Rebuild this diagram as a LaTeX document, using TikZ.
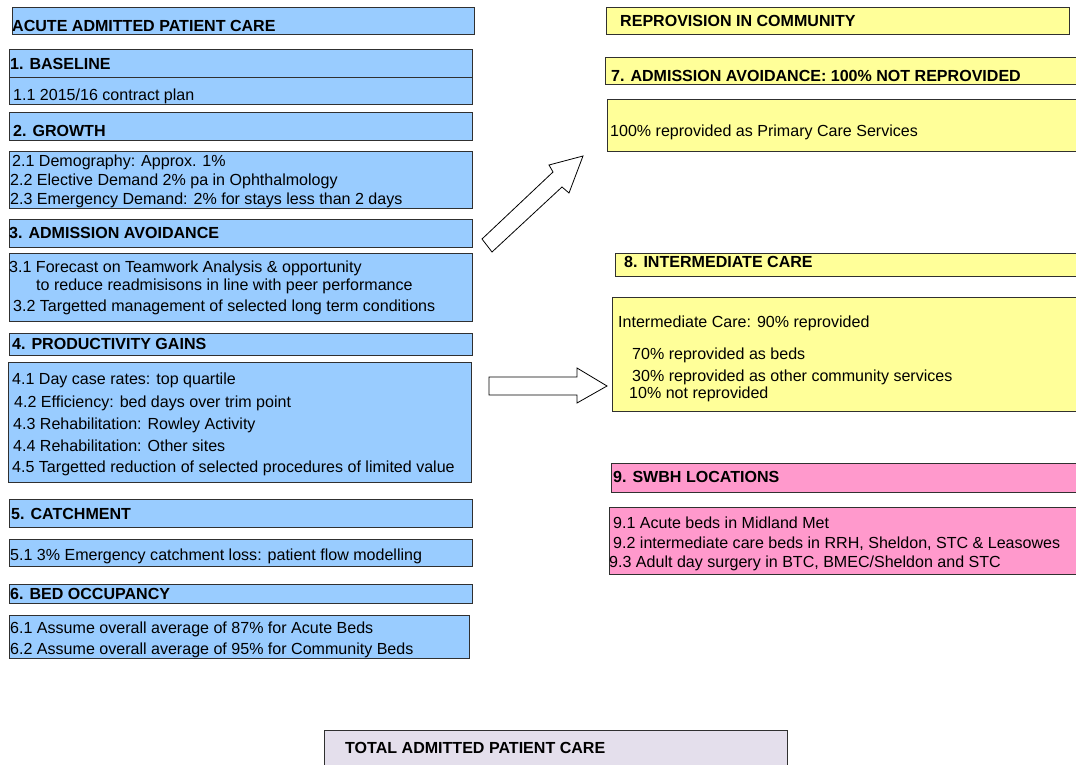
\documentclass[tikz,border=0pt]{standalone}
\usepackage{fontspec}
\setmainfont{Liberation Sans}
\definecolor{cblue}{HTML}{99CCFF}
\definecolor{cyellow}{HTML}{FFFF99}
\definecolor{cpink}{HTML}{FF99CC}
\definecolor{clav}{HTML}{E4DFEC}
\definecolor{cedge}{HTML}{303030}
\begin{document}
\begin{tikzpicture}[x=1pt,y=-1pt,
  panel/.style={draw=cedge,line width=1pt,fill=#1},
  hd/.style={anchor=base west,inner sep=0pt,font=\fontsize{16.05}{18}\selectfont\bfseries},
  tx/.style={anchor=base west,inner sep=0pt,font=\fontsize{16.05}{18}\selectfont},
  blockarrow/.style={draw=black,line width=0.8pt,fill=white,line join=miter}]
\useasboundingbox (0,0) rectangle (1076,765);
\fill[white] (0,0) rectangle (1076,765);

% ---- left column: acute admitted patient care ----
\draw[panel=cblue] (12,8) rectangle (474,35);
\node[hd] (acute) at (12,32) {ACUTE ADMITTED PATIENT CARE};

\draw[panel=cblue] (9,50) rectangle (472,78);
\node[hd] (h1) at (10,70) {1. BASELINE};
\draw[panel=cblue] (9,78) rectangle (472,105);
\node[tx] (t11) at (13,101) {1.1 2015/16 contract plan};

\draw[panel=cblue] (9,113) rectangle (472,141);
\node[hd] (h2) at (13,136) {2. GROWTH};
\draw[panel=cblue] (9,152) rectangle (472,208);
\node[tx] (t21) at (12,167) {2.1 Demography: Approx. 1\%};
\node[tx] (t22) at (10,185) {2.2 Elective Demand 2\% pa in Ophthalmology};
\node[tx] (t23) at (10,204) {2.3 Emergency Demand: 2\% for stays less than 2 days};

\draw[panel=cblue] (9,219) rectangle (472,247);
\node[hd] (h3) at (9,238) {3. ADMISSION AVOIDANCE};
\draw[panel=cblue] (9,253) rectangle (472,321);
\node[tx] (t31) at (9,272) {3.1 Forecast on Teamwork Analysis \& opportunity};
\node[tx] (t31b) at (36,290) {to reduce readmisisons in line with peer performance};
\node[tx] (t32) at (13,311) {3.2 Targetted management of selected long term conditions};

\draw[panel=cblue] (9,333) rectangle (472,355);
\node[hd] (h4) at (12,349) {4. PRODUCTIVITY GAINS};
\draw[panel=cblue] (8,362) rectangle (471,482);
\node[tx] (t41) at (12,384) {4.1 Day case rates: top quartile};
\node[tx] (t42) at (14,407) {4.2 Efficiency: bed days over trim point};
\node[tx] (t43) at (13,429) {4.3 Rehabilitation: Rowley Activity};
\node[tx] (t44) at (13,451) {4.4 Rehabilitation: Other sites};
\node[tx] (t45) at (12,472) {4.5 Targetted reduction of selected procedures of limited value};

\draw[panel=cblue] (9,499) rectangle (472,527);
\node[hd] (h5) at (11,519) {5. CATCHMENT};
\draw[panel=cblue] (9,539) rectangle (472,566);
\node[tx] (t51) at (10,560) {5.1 3\% Emergency catchment loss: patient flow modelling};

\draw[panel=cblue] (9,584) rectangle (472,603);
\node[hd] (h6) at (10,599) {6. BED OCCUPANCY};
\draw[panel=cblue] (9,615) rectangle (469,658);
\node[tx] (t61) at (10,633) {6.1 Assume overall average of 87\% for Acute Beds};
\node[tx] (t62) at (10,654) {6.2 Assume overall average of 95\% for Community Beds};

% ---- right column: reprovision in community ----
\draw[panel=cyellow] (606,8) rectangle (1069,35);
\node[hd] (reprov) at (620,27) {REPROVISION IN COMMUNITY};

\draw[panel=cyellow] (605,58) rectangle (1090,85);
\node[hd] (h7) at (611,82) {7. ADMISSION AVOIDANCE: 100\% NOT REPROVIDED};
\draw[panel=cyellow] (607,100) rectangle (1090,152);
\node[tx] (t7) at (610,137) {100\% reprovided as Primary Care Services};

\draw[panel=cyellow] (615,253) rectangle (1090,276);
\node[hd] (h8) at (624,267) {8. INTERMEDIATE CARE};
\draw[panel=cyellow] (612,297) rectangle (1090,411);
\node[tx] (t8) at (618,327) {Intermediate Care: 90\% reprovided};
\node[tx] (t8a) at (632,359) {70\% reprovided as beds};
\node[tx] (t8b) at (632,381) {30\% reprovided as other community services};
\node[tx] (t8c) at (629,398) {10\% not reprovided};

\draw[panel=cpink] (611,463) rectangle (1090,492);
\node[hd] (h9) at (613,482) {9. SWBH LOCATIONS};
\draw[panel=cpink] (609,507) rectangle (1090,574);
\node[tx] (t91) at (613,528) {9.1 Acute beds in Midland Met};
\node[tx] (t92) at (613,548) {9.2 intermediate care beds in RRH, Sheldon, STC \& Leasowes};
\node[tx] (t93) at (609,567) {9.3 Adult day surgery in BTC, BMEC/Sheldon and STC};

% ---- total ----
\draw[panel=clav] (324,730) rectangle (787,790);
\node[hd] (total) at (345,753) {TOTAL ADMITTED PATIENT CARE};

% ---- block arrows ----
\draw[blockarrow] (482,239) -- (553,172) -- (549,165) -- (583,156) -- (569,193)
  -- (562,187) -- (492,252) -- cycle;
\draw[blockarrow] (489,377) -- (577,377) -- (577,368) -- (607,386) -- (577,403)
  -- (577,395) -- (489,395) -- cycle;
\end{tikzpicture}
\end{document}
